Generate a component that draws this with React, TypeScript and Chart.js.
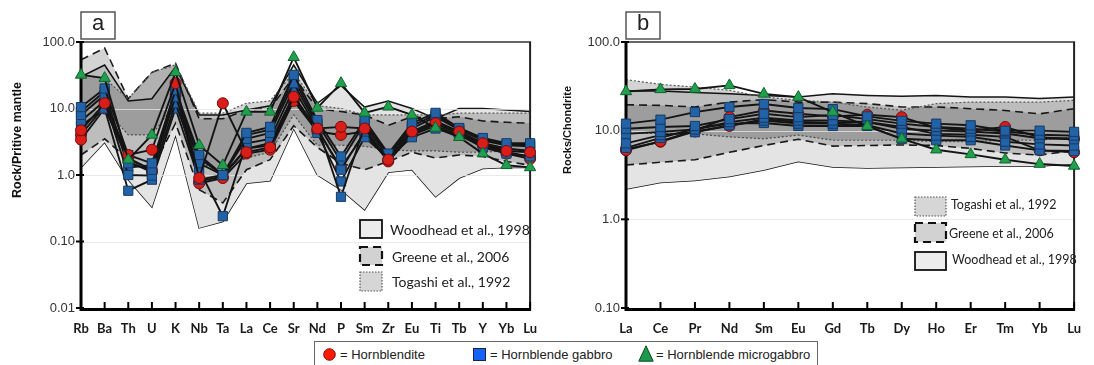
import React, { useEffect, useRef } from 'react';
import { Chart, registerables } from 'chart.js';

Chart.register(...registerables);

// ---- categories ----
const TRACE_ELEMENTS = ['Rb', 'Ba', 'Th', 'U', 'K', 'Nb', 'Ta', 'La', 'Ce', 'Sr', 'Nd', 'P', 'Sm', 'Zr', 'Eu', 'Ti', 'Tb', 'Y', 'Yb', 'Lu'];
const REE_ELEMENTS = ['La', 'Ce', 'Pr', 'Nd', 'Sm', 'Eu', 'Gd', 'Tb', 'Dy', 'Ho', 'Er', 'Tm', 'Yb', 'Lu'];

// ---- tick labels ----
const TRACE_TICKS = [0.01, 0.1, 1, 10, 100];
const REE_TICKS = [0.1, 1, 10, 100];
const TICK_TEXT: Record<string, string> = { '0.01': '0.01', '0.1': '0.10', '1': '1.0', '10': '10.0', '100': '100.0' };

// ---- primitive-mantle normalised samples ----
const traceMicrogabbro = [32, 28.6, 1.7, 4, 35, 2.8, 1.4, 8.9, 8.9, 59, 10.2, 24, 8.6, 10.6, 8, 5.1, 3.7, 2.1, 1.4, 1.3];
const traceHornblendite1 = [4.7, 12, 2.0, 2.4, 24, 0.9, 12, 2.2, 2.6, 15, 5, 5.3, 5, 1.7, 4.5, 6, 4.5, 3, 2.3, 2.2];
const traceHornblendite2 = [3.4, 10, 1.8, 1.2, 20, 0.75, 0.9, 2.1, 2.4, 13, 4.5, 4.0, 4.5, 1.6, 4, 5.5, 4, 2.8, 2.1, 1.75];
const traceHornblendite3 = [4.0, 11, 1.6, 1.1, 16, 0.8, 0.95, 2.5, 2.8, 14, 4.8, 1.3, 4.2, 1.7, 4.2, 5.8, 4.3, 2.9, 2.2, 1.9];
const traceGabbro1 = [10.5, 20, 2.0, 1.5, 19, 2.0, 1.0, 4.3, 5.3, 32, 6.7, 1.9, 6.7, 2.1, 6, 8.6, 5.1, 3.6, 3, 3];
const traceGabbro2 = [8, 16, 1.5, 1.2, 15, 1.5, 1.0, 3.5, 4.3, 24, 5.5, 0.47, 5.5, 1.9, 5, 7.5, 4.8, 3.3, 2.8, 2.7];
const traceGabbro3 = [6.5, 13, 1.0, 0.98, 12, 1.2, 0.24, 3.0, 3.5, 20, 5, 1.2, 4.5, 1.8, 4.5, 6.5, 4.5, 3.0, 2.5, 2.3];
const traceGabbro4 = [5.5, 10, 0.58, 0.85, 10, 0.85, 1.0, 2.5, 3.0, 16, 4.3, 0.8, 3.7, 1.8, 3.7, 5, 4, 2.6, 2.1, 1.9];
const traceGabbro5 = [9, 18, 1.3, 1.4, 17, 1.8, 1.0, 4.0, 4.8, 28, 6.0, 1.6, 6.0, 2.0, 5.5, 8, 5, 3.5, 2.9, 2.9];

// ---- primitive-mantle reference fields ----
const traceTogashiUpper = [32, 28, 14, 35, 45, 8.5, 8.5, 12, 13, 35, 11, 10, 8, 8, 8, 8, 8.5, 8.5, 8.5, 8.5];
const traceTogashiLower = [4.3, 10, 4, 4, 12, 1.5, 1.2, 1.8, 2.2, 8, 2.8, 2.8, 2.7, 2.4, 2.3, 2.3, 2.2, 2.2, 2.3, 2.4];
const traceGreeneUpper = [54, 81, 14, 35, 48, 7, 7, 9.5, 10, 30, 10, 9, 8, 5.6, 7.5, 7, 7.5, 6.5, 6.2, 6];
const traceGreeneLower = [2.0, 3.5, 1.7, 1.2, 6, 0.6, 0.38, 1.2, 1.7, 5.5, 2.6, 1.5, 1.2, 1.6, 2.2, 1.8, 2.0, 1.9, 1.6, 1.4];
const traceWoodheadUpper = [30, 45, 13, 14, 42, 8, 8, 9.5, 11, 45, 12, 22, 10.5, 13, 10, 7, 10, 10, 9.5, 9];
const traceWoodheadLower = [1.3, 3.1, 0.85, 0.33, 4.0, 0.16, 0.2, 0.75, 0.82, 5.0, 1.0, 0.6, 0.3, 1.1, 1.2, 0.47, 0.9, 1.25, 1.3, 1.3];

// ---- chondrite normalised samples ----
const reeMicrogabbro = [27.7, 29.2, 29.5, 32.4, 26, 23.9, 16.2, 11.2, 8.1, 6.1, 5.4, 4.7, 4.2, 4.0];
const reeHornblendite1 = [6.0, 7.6, 10, 14.2, 16.9, 15.5, 14.5, 15.1, 14.2, 10.8, 10, 11, 8.4, 8.1];
const reeHornblendite2 = [6.2, 7.5, 9.8, 11.3, 13.5, 12.5, 12.2, 12.5, 11, 9.2, 9, 8.5, 6, 5.7];
const reeGabbro1 = [12, 13.3, 16.2, 18.5, 20, 18, 17.5, 14.5, 12.9, 12, 11.5, 10, 10, 9.7];
const reeGabbro2 = [10.5, 11, 11.3, 13.5, 15.5, 14.2, 15, 13.5, 12, 11, 10.5, 9.8, 9, 8.8];
const reeGabbro3 = [9.2, 9.7, 10.3, 12.5, 14, 13, 13, 12.5, 10.5, 10, 9.8, 9.3, 8.2, 8];
const reeGabbro4 = [7.2, 8.9, 9.6, 11.5, 13, 12, 12, 11.5, 9.3, 8.8, 8.5, 7.5, 7, 6.8];
const reeGabbro5 = [6.4, 8.3, 10.5, 12, 12.2, 11.3, 11.3, 11.3, 8.1, 7.8, 7.8, 6.8, 6, 5.9];

// ---- chondrite reference fields ----
const reeTogashiUpper = [37.6, 33.3, 31, 28.5, 24, 22, 21, 18.5, 17, 20.2, 21, 21, 21, 22];
const reeTogashiLower = [9.4, 9.3, 9.2, 8.5, 8.1, 8.9, 7.8, 7.8, 7.8, 7.5, 7.5, 7.8, 7.8, 8.5];
const reeGreeneUpper = [19.6, 19.3, 18.5, 21, 22.4, 21, 21, 20.2, 18.5, 18.5, 17.7, 16.9, 15.5, 17.7];
const reeGreeneLower = [4.1, 4.4, 4.7, 5.7, 6.8, 8.0, 6.7, 6.8, 6.9, 6.8, 6.3, 5.6, 5.3, 6.0];
const reeWoodheadUpper = [28, 28, 27, 26, 25, 24, 26, 25, 24.5, 25, 24, 24, 23, 24];
const reeWoodheadLower = [2.2, 2.6, 2.75, 3.05, 3.6, 4.5, 3.9, 3.8, 3.85, 3.9, 3.95, 4.0, 4.0, 4.2];

type RockType = 'hornblendite' | 'gabbro' | 'microgabbro';
type FieldKey = 'woodhead' | 'greene' | 'togashi';

const ROCK_STYLE: Record<RockType, { pointStyle: string; radius: number; fill: string; stroke: string }> = {
  hornblendite: { pointStyle: 'circle', radius: 5.5, fill: '#d91e1a', stroke: '#6e0e0e' },
  gabbro: { pointStyle: 'rect', radius: 6.5, fill: '#2262a6', stroke: '#183a62' },
  microgabbro: { pointStyle: 'triangle', radius: 6.5, fill: '#20a04e', stroke: '#11632e' },
};

const FIELD_STYLE: Record<FieldKey, { line: string; width: number; dash: number[]; fill: string; swatch: string; order: number }> = {
  woodhead: { line: '#151515', width: 1.5, dash: [], fill: '#e4e4e4', swatch: '#ececec', order: 3 },
  greene: { line: '#1c1c1c', width: 1.6, dash: [8, 5], fill: 'rgba(0,0,0,0.17)', swatch: '#d2d2d2', order: 2 },
  togashi: { line: '#555555', width: 1.2, dash: [2, 2], fill: 'rgba(0,0,0,0.17)', swatch: '#d6d6d6', order: 1 },
};

const FIELD_LABEL: Record<FieldKey, string> = {
  woodhead: 'Woodhead et al., 1998',
  greene: 'Greene et al., 2006',
  togashi: 'Togashi et al., 1992',
};

interface Sample { rock: RockType; values: number[] }
interface Field { key: FieldKey; upper: number[]; lower: number[] }
interface LegendRow { key: FieldKey; top: number; height: number; textX: number; textY: number }
interface PanelProps {
  width: number;
  height: number;
  letter: string;
  yTitle: string;
  yTitleX: number;
  yTitleY: number;
  yTitleSize: number;
  categories: string[];
  ticks: number[];
  samples: Sample[];
  fields: Field[];
  axisWidth: number;
  rightPad: number;
  legendX: number;
  legendW: number;
  legendFont: number;
  legendRows: LegendRow[];
}

// samples listed top-most first: the first entry is painted last
const tracePanel: PanelProps = {
  width: 550,
  height: 335,
  letter: 'a',
  yTitle: 'Rock/Pritive mantle',
  yTitleX: 18,
  yTitleY: 140,
  yTitleSize: 12.5,
  categories: TRACE_ELEMENTS,
  ticks: TRACE_TICKS,
  samples: [
    { rock: 'microgabbro', values: traceMicrogabbro },
    { rock: 'hornblendite', values: traceHornblendite1 },
    { rock: 'gabbro', values: traceGabbro1 },
    { rock: 'gabbro', values: traceGabbro2 },
    { rock: 'gabbro', values: traceGabbro3 },
    { rock: 'gabbro', values: traceGabbro4 },
    { rock: 'gabbro', values: traceGabbro5 },
    { rock: 'hornblendite', values: traceHornblendite2 },
    { rock: 'hornblendite', values: traceHornblendite3 },
  ],
  fields: [
    { key: 'togashi', upper: traceTogashiUpper, lower: traceTogashiLower },
    { key: 'greene', upper: traceGreeneUpper, lower: traceGreeneLower },
    { key: 'woodhead', upper: traceWoodheadUpper, lower: traceWoodheadLower },
  ],
  axisWidth: 81,
  rightPad: 11,
  legendX: 360,
  legendW: 22,
  legendFont: 14,
  legendRows: [
    { key: 'woodhead', top: 220, height: 18, textX: 390, textY: 230 },
    { key: 'greene', top: 247, height: 18, textX: 392, textY: 257 },
    { key: 'togashi', top: 272, height: 19, textX: 392, textY: 282 },
  ],
};

const reePanel: PanelProps = {
  width: 544,
  height: 335,
  letter: 'b',
  yTitle: 'Rocks/Chondrite',
  yTitleX: 18,
  yTitleY: 130,
  yTitleSize: 11,
  categories: REE_ELEMENTS,
  ticks: REE_TICKS,
  samples: [
    { rock: 'microgabbro', values: reeMicrogabbro },
    { rock: 'gabbro', values: reeGabbro1 },
    { rock: 'gabbro', values: reeGabbro2 },
    { rock: 'gabbro', values: reeGabbro3 },
    { rock: 'gabbro', values: reeGabbro4 },
    { rock: 'gabbro', values: reeGabbro5 },
    { rock: 'hornblendite', values: reeHornblendite1 },
    { rock: 'hornblendite', values: reeHornblendite2 },
  ],
  fields: [
    { key: 'togashi', upper: reeTogashiUpper, lower: reeTogashiLower },
    { key: 'greene', upper: reeGreeneUpper, lower: reeGreeneLower },
    { key: 'woodhead', upper: reeWoodheadUpper, lower: reeWoodheadLower },
  ],
  axisWidth: 76,
  rightPad: 11,
  legendX: 365,
  legendW: 31,
  legendFont: 12.5,
  legendRows: [
    { key: 'togashi', top: 197, height: 19, textX: 401, textY: 205 },
    { key: 'greene', top: 223, height: 19, textX: 399, textY: 234 },
    { key: 'woodhead', top: 252, height: 18, textX: 402, textY: 260 },
  ],
};

function SpiderPanel(props: PanelProps) {
  const canvasRef = useRef<HTMLCanvasElement | null>(null);

  useEffect(() => {
    const canvas = canvasRef.current;
    if (!canvas) return;
    const p = props;
    const nSamples = p.samples.length;

    const datasets: any[] = p.samples.map((s) => {
      const st = ROCK_STYLE[s.rock];
      return {
        data: s.values,
        borderColor: '#141414',
        borderWidth: 1.9,
        tension: 0,
        fill: false,
        pointStyle: st.pointStyle,
        pointRadius: st.radius,
        pointBackgroundColor: st.fill,
        pointBorderColor: st.stroke,
        pointBorderWidth: 1,
        order: 0,
        clip: false,
      };
    });

    p.fields.forEach((f) => {
      const st = FIELD_STYLE[f.key];
      const upperIndex = datasets.length;
      datasets.push({
        data: f.upper,
        borderColor: st.line,
        borderWidth: st.width,
        borderDash: st.dash,
        backgroundColor: st.fill,
        fill: upperIndex + 1,
        pointRadius: 0,
        tension: 0,
        order: st.order,
      });
      datasets.push({
        data: f.lower,
        borderColor: st.line,
        borderWidth: st.width,
        borderDash: st.dash,
        fill: false,
        pointRadius: 0,
        tension: 0,
        order: st.order,
      });
    });

    // grid lines and axis frame, painted above the reference fields but under the samples
    const drawFrame = (chart: any) => {
      const { ctx, chartArea } = chart;
      const { left, right, top, bottom } = chartArea;
      const y = chart.scales.y;
      const x = chart.scales.x;
      ctx.save();
      ctx.setLineDash([]);
      ctx.strokeStyle = 'rgba(228,228,228,0.8)';
      ctx.lineWidth = 1;
      p.ticks.forEach((t) => {
        const py = Math.round(y.getPixelForValue(t)) + 0.5;
        if (py > top + 2 && py < bottom - 2) {
          ctx.beginPath();
          ctx.moveTo(left, py);
          ctx.lineTo(right, py);
          ctx.stroke();
        }
      });
      ctx.strokeStyle = '#666';
      ctx.lineWidth = 2;
      ctx.beginPath();
      ctx.moveTo(left, top);
      ctx.lineTo(right + 1, top);
      ctx.stroke();
      ctx.strokeStyle = '#222';
      ctx.beginPath();
      ctx.moveTo(right, top);
      ctx.lineTo(right, bottom);
      ctx.stroke();
      ctx.strokeStyle = '#000';
      ctx.lineWidth = 3;
      ctx.beginPath();
      ctx.moveTo(left, top - 1);
      ctx.lineTo(left, bottom + 1.5);
      ctx.lineTo(right + 1, bottom + 1.5);
      ctx.stroke();
      ctx.lineWidth = 2;
      p.categories.forEach((_, i) => {
        const px = x.getPixelForValue(i);
        ctx.beginPath();
        ctx.moveTo(px, bottom);
        ctx.lineTo(px, bottom - 6);
        ctx.stroke();
      });
      p.ticks.forEach((t) => {
        const py = y.getPixelForValue(t);
        ctx.beginPath();
        ctx.moveTo(left - 5, py);
        ctx.lineTo(left + 3, py);
        ctx.stroke();
      });
      ctx.restore();
    };

    const panelDecor = {
      id: 'panelDecor',
      beforeDatasetDraw(chart: any, args: any) {
        if (args.index === nSamples - 1) drawFrame(chart);
      },
      afterDraw(chart: any) {
        const { ctx, chartArea } = chart;
        ctx.save();
        // panel letter
        const bx = chartArea.left;
        ctx.fillStyle = '#fff';
        ctx.fillRect(bx, 12, 34, 27);
        ctx.strokeStyle = '#555';
        ctx.lineWidth = 1.5;
        ctx.strokeRect(bx, 12, 34, 27);
        ctx.fillStyle = '#222';
        ctx.font = '22px "Liberation Sans", Arial, sans-serif';
        ctx.textAlign = 'center';
        ctx.textBaseline = 'middle';
        ctx.fillText(p.letter, bx + 17, 24);

        // y axis title
        ctx.save();
        ctx.translate(p.yTitleX, p.yTitleY);
        ctx.rotate(-Math.PI / 2);
        ctx.font = `bold ${p.yTitleSize}px "Liberation Sans", Arial, sans-serif`;
        ctx.fillStyle = '#111';
        ctx.fillText(p.yTitle, 0, 0);
        ctx.restore();

        // reference field legend
        p.legendRows.forEach((row) => {
          const st = FIELD_STYLE[row.key];
          ctx.fillStyle = st.swatch;
          ctx.fillRect(p.legendX, row.top, p.legendW, row.height);
          ctx.strokeStyle = row.key === 'togashi' ? '#555' : '#111';
          ctx.lineWidth = row.key === 'togashi' ? 1.2 : row.key === 'greene' ? 2.2 : 1.8;
          ctx.setLineDash(row.key === 'togashi' ? [1.5, 1.5] : row.key === 'greene' ? [8, 5] : []);
          ctx.strokeRect(p.legendX, row.top, p.legendW, row.height);
          ctx.setLineDash([]);
          ctx.fillStyle = '#222';
          ctx.font = `${p.legendFont}px Lato, "Liberation Sans", sans-serif`;
          ctx.textAlign = 'left';
          ctx.textBaseline = 'middle';
          ctx.fillText(FIELD_LABEL[row.key], row.textX, row.textY);
        });
        ctx.restore();
      },
    };

    const chart = new Chart(canvas, {
      type: 'line',
      data: { labels: p.categories, datasets },
      options: {
        animation: false,
        responsive: false,
        events: [],
        layout: { padding: { left: 0, top: 42, right: p.rightPad, bottom: 0 } },
        plugins: {
          legend: { display: false },
          tooltip: { enabled: false },
          filler: { propagate: false },
        },
        scales: {
          x: {
            type: 'category',
            offset: false,
            grid: { display: false, drawTicks: false },
            border: { display: false },
            ticks: {
              autoSkip: false,
              maxRotation: 0,
              padding: 13,
              color: '#1a1a1a',
              font: { family: 'Lato, "Liberation Sans", sans-serif', weight: 'bold', size: 13 },
            },
            afterFit: (s: any) => {
              s.height = 27;
            },
          },
          y: {
            type: 'logarithmic',
            min: p.ticks[0],
            max: p.ticks[p.ticks.length - 1],
            grid: { display: false, drawTicks: false },
            border: { display: false },
            ticks: {
              padding: 6,
              color: '#333',
              font: { family: '"Liberation Sans", Arial, sans-serif', size: 13 },
              callback: (v: any) => TICK_TEXT[String(v)] ?? '',
            },
            afterBuildTicks: (s: any) => {
              s.ticks = p.ticks.map((v) => ({ value: v }));
            },
            afterFit: (s: any) => {
              s.width = p.axisWidth;
            },
          },
        },
      } as any,
      plugins: [panelDecor],
    });

    return () => chart.destroy();
  }, []);

  return <canvas ref={canvasRef} width={props.width} height={props.height} style={{ display: 'block', width: props.width, height: props.height }} />;
}

const LEGEND_TEXT = { hornblendite: '= Hornblendite', gabbro: '= Hornblende gabbro', microgabbro: '= Hornblende microgabbro' };

export default function App() {
  const legendFont: React.CSSProperties = {
    position: 'absolute',
    top: 5,
    fontFamily: '"Liberation Sans", Arial, sans-serif',
    fontSize: 13,
    lineHeight: '16px',
    color: '#222',
    whiteSpace: 'nowrap',
  };
  return (
    <div style={{ position: 'fixed', left: 0, top: 0, width: 1094, height: 365, background: '#fff', overflow: 'hidden' }}>
      <div style={{ position: 'absolute', left: 0, top: 0 }}>
        <SpiderPanel {...tracePanel} />
      </div>
      <div style={{ position: 'absolute', left: 550, top: 0 }}>
        <SpiderPanel {...reePanel} />
      </div>
      <div
        style={{
          position: 'absolute',
          left: 314,
          top: 341,
          width: 504,
          height: 28,
          border: '1px solid #666',
          boxSizing: 'border-box',
          background: '#fff',
        }}
      >
        <svg style={{ position: 'absolute', left: 8, top: 6 }} width={13} height={13}>
          <circle cx={6.5} cy={6.5} r={5.8} fill="#ff1a00" stroke="#7a1010" strokeWidth={1} />
        </svg>
        <span style={{ ...legendFont, left: 25 }}>{LEGEND_TEXT.hornblendite}</span>
        <svg style={{ position: 'absolute', left: 158, top: 6 }} width={13} height={13}>
          <rect x={0.5} y={0.5} width={12} height={12} fill="#1463ff" stroke="#223" strokeWidth={1} />
        </svg>
        <span style={{ ...legendFont, left: 175 }}>{LEGEND_TEXT.gabbro}</span>
        <svg style={{ position: 'absolute', left: 323, top: 3 }} width={16} height={17}>
          <polygon points="8,0.8 15.2,16.2 0.8,16.2" fill="#1a9a4a" stroke="#0d4a22" strokeWidth={1} />
        </svg>
        <span style={{ ...legendFont, left: 341 }}>{LEGEND_TEXT.microgabbro}</span>
      </div>
    </div>
  );
}
